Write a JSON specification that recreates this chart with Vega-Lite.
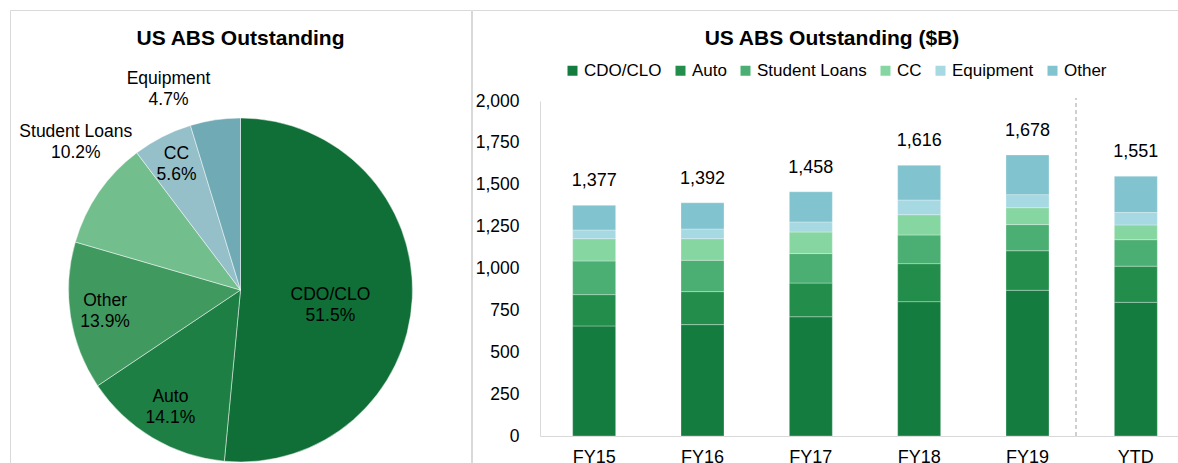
{
  "$schema": "https://vega.github.io/schema/vega-lite/v6.json",
  "padding": {"left": 9, "top": 9, "right": 0, "bottom": 0},
  "spacing": -2,
  "resolve": {"scale": {"color": "independent", "theta": "independent"}, "legend": {"color": "independent"}},
  "config": {
    "view": {"stroke": "#d9d9d9", "strokeWidth": 1},
    "font": "Liberation Sans",
    "text": {"font": "Liberation Sans", "color": "#000000"},
    "title": {"font": "Liberation Sans", "fontSize": 21, "fontWeight": "bold", "color": "#000000", "frame": "group", "anchor": "middle", "baseline": "alphabetic", "offset": -39}
  },
  "hconcat": [
    {
      "width": 461,
      "height": 560,
      "view": {"stroke": "#d9d9d9", "strokeWidth": 1},
      "title": {"text": "US ABS Outstanding"},
      "data": {"values": [
        {"name": "CDO/CLO", "share": 51.5},
        {"name": "Auto", "share": 14.1},
        {"name": "Other", "share": 13.9},
        {"name": "Student Loans", "share": 10.2},
        {"name": "CC", "share": 5.6},
        {"name": "Equipment", "share": 4.7}
      ]},
      "transform": [
        {"calculate": "indexof(['CDO/CLO','Auto','Other','Student Loans','CC','Equipment'], datum.name)", "as": "ord"},
        {"stack": "share", "groupby": [], "sort": [{"field": "ord", "order": "ascending"}], "as": ["s0", "s1"]},
        {"calculate": "(datum.s0 + datum.s1) / 2", "as": "mid"},
        {"calculate": "datum.name + '\\n' + format(datum.share, '.1f') + '%'", "as": "lbl"}
      ],
      "layer": [
        {
          "mark": {"type": "arc", "outerRadius": 172, "stroke": "#ffffff", "strokeWidth": 0.8, "strokeOpacity": 0.6},
          "encoding": {
            "theta": {"field": "s0", "type": "quantitative", "stack": null, "scale": {"domain": [0, 100]}},
            "theta2": {"field": "s1"},
            "color": {"field": "name", "type": "nominal", "legend": null,
              "scale": {"domain": ["CDO/CLO", "Auto", "Other", "Student Loans", "CC", "Equipment"],
                        "range": ["#0f6f37", "#1d7f43", "#409a60", "#73be8d", "#95c0c9", "#70aab5"]}}
          }
        },
        {
          "transform": [{"filter": "datum.name === 'CDO/CLO'"}],
          "mark": {"type": "text", "radius": 90, "dy": 1, "fontSize": 17.5, "lineBreak": "\n", "lineHeight": 21, "baseline": "middle", "align": "center"},
          "encoding": {"theta": {"field": "mid", "type": "quantitative", "stack": null}, "text": {"field": "lbl"}}
        },
        {
          "transform": [{"filter": "indexof(['Auto','Other'], datum.name) >= 0"}],
          "mark": {"type": "text", "radius": 137, "dy": -10.5, "fontSize": 17.5, "lineBreak": "\n", "lineHeight": 21, "baseline": "middle", "align": "center"},
          "encoding": {"theta": {"field": "mid", "type": "quantitative", "stack": null}, "text": {"field": "lbl"}}
        },
        {
          "transform": [{"filter": "datum.name === 'CC'"}],
          "mark": {"type": "text", "radius": 141, "dy": -10.5, "fontSize": 17.5, "lineBreak": "\n", "lineHeight": 21, "baseline": "middle", "align": "center"},
          "encoding": {"theta": {"field": "mid", "type": "quantitative", "stack": null}, "text": {"field": "lbl"}}
        },
        {
          "transform": [{"filter": "datum.name === 'Student Loans'"}],
          "mark": {"type": "text", "radius": 200, "dy": -45, "fontSize": 17.5, "lineBreak": "\n", "lineHeight": 21, "baseline": "middle", "align": "center"},
          "encoding": {"theta": {"field": "mid", "type": "quantitative", "stack": null}, "text": {"field": "lbl"}}
        },
        {
          "transform": [{"filter": "datum.name === 'Equipment'"}],
          "mark": {"type": "text", "radius": 204, "dx": -42, "dy": -9, "fontSize": 17.5, "lineBreak": "\n", "lineHeight": 21, "baseline": "middle", "align": "center"},
          "encoding": {"theta": {"field": "mid", "type": "quantitative", "stack": null}, "text": {"field": "lbl"}}
        }
      ]
    },
    {
      "width": 720,
      "height": 560,
      "view": {"stroke": "#d9d9d9", "strokeWidth": 1},
      "title": {"text": "US ABS Outstanding ($B)"},
      "data": {"values": [
        {"year": "FY15", "name": "CDO/CLO", "value": 657},
        {"year": "FY15", "name": "Auto", "value": 187},
        {"year": "FY15", "name": "Student Loans", "value": 201},
        {"year": "FY15", "name": "CC", "value": 133},
        {"year": "FY15", "name": "Equipment", "value": 52},
        {"year": "FY15", "name": "Other", "value": 147},
        {"year": "FY16", "name": "CDO/CLO", "value": 665},
        {"year": "FY16", "name": "Auto", "value": 197},
        {"year": "FY16", "name": "Student Loans", "value": 187},
        {"year": "FY16", "name": "CC", "value": 129},
        {"year": "FY16", "name": "Equipment", "value": 58},
        {"year": "FY16", "name": "Other", "value": 156},
        {"year": "FY17", "name": "CDO/CLO", "value": 712},
        {"year": "FY17", "name": "Auto", "value": 201},
        {"year": "FY17", "name": "Student Loans", "value": 176},
        {"year": "FY17", "name": "CC", "value": 129},
        {"year": "FY17", "name": "Equipment", "value": 60},
        {"year": "FY17", "name": "Other", "value": 180},
        {"year": "FY18", "name": "CDO/CLO", "value": 802},
        {"year": "FY18", "name": "Auto", "value": 227},
        {"year": "FY18", "name": "Student Loans", "value": 171},
        {"year": "FY18", "name": "CC", "value": 121},
        {"year": "FY18", "name": "Equipment", "value": 88},
        {"year": "FY18", "name": "Other", "value": 207},
        {"year": "FY19", "name": "CDO/CLO", "value": 870},
        {"year": "FY19", "name": "Auto", "value": 236},
        {"year": "FY19", "name": "Student Loans", "value": 156},
        {"year": "FY19", "name": "CC", "value": 101},
        {"year": "FY19", "name": "Equipment", "value": 78},
        {"year": "FY19", "name": "Other", "value": 237},
        {"year": "YTD", "name": "CDO/CLO", "value": 798},
        {"year": "YTD", "name": "Auto", "value": 216},
        {"year": "YTD", "name": "Student Loans", "value": 158},
        {"year": "YTD", "name": "CC", "value": 88},
        {"year": "YTD", "name": "Equipment", "value": 74},
        {"year": "YTD", "name": "Other", "value": 217}
      ]},
      "transform": [
        {"calculate": "indexof(['CDO/CLO','Auto','Student Loans','CC','Equipment','Other'], datum.name)", "as": "ord"}
      ],
      "layer": [
        {
          "mark": {"type": "bar", "stroke": "#ffffff", "strokeWidth": 0.6, "strokeOpacity": 0.5},
          "encoding": {
            "x": {"field": "year", "type": "ordinal", "title": null,
              "scale": {"range": [68, 718], "paddingInner": 0.603, "paddingOuter": 0.3015},
              "axis": {"orient": "bottom", "offset": -134, "labelAngle": 0, "ticks": false, "labelPadding": 12, "labelFontSize": 18, "labelFont": "Liberation Sans", "labelColor": "#000000", "domainColor": "#d9d9d9", "domainWidth": 1}},
            "y": {"field": "value", "type": "quantitative", "stack": true, "title": null,
              "scale": {"domain": [0, 2000], "range": [426, 91], "nice": false},
              "axis": {"orient": "left", "offset": -68, "values": [0, 250, 500, 750, 1000, 1250, 1500, 1750, 2000], "format": ",.0f", "grid": false, "ticks": false, "labelPadding": 21, "labelFontSize": 17.5, "labelFont": "Liberation Sans", "labelColor": "#000000", "domainColor": "#d9d9d9", "domainWidth": 1}},
            "color": {"field": "name", "type": "nominal",
              "scale": {"domain": ["CDO/CLO", "Auto", "Student Loans", "CC", "Equipment", "Other"],
                        "range": ["#137c3e", "#238e4b", "#4bae72", "#86d6a2", "#a6d9e2", "#81c3ce"]},
              "legend": {"orient": "none", "legendX": 92, "legendY": 52, "direction": "horizontal", "columns": 6, "title": null,
                "symbolType": "square", "symbolSize": 100, "symbolStrokeWidth": 0, "labelFontSize": 17, "labelFont": "Liberation Sans", "labelColor": "#000000", "labelOffset": 3, "columnPadding": 10, "padding": 0}},
            "order": {"field": "ord", "type": "quantitative"}
          }
        },
        {
          "mark": {"type": "text", "baseline": "bottom", "dy": -15, "fontSize": 18},
          "encoding": {
            "x": {"field": "year", "type": "ordinal", "title": null},
            "y": {"aggregate": "sum", "field": "value", "type": "quantitative", "title": null},
            "text": {"aggregate": "sum", "field": "value", "type": "quantitative", "format": ",.0f"}
          }
        },
        {
          "mark": {"type": "rule", "strokeDash": [4, 3], "color": "#d0d0d0", "strokeWidth": 1.5, "xOffset": -60},
          "encoding": {
            "x": {"datum": "YTD", "type": "ordinal"},
            "y": {"datum": 0},
            "y2": {"datum": 2015}
          }
        }
      ]
    }
  ]
}
